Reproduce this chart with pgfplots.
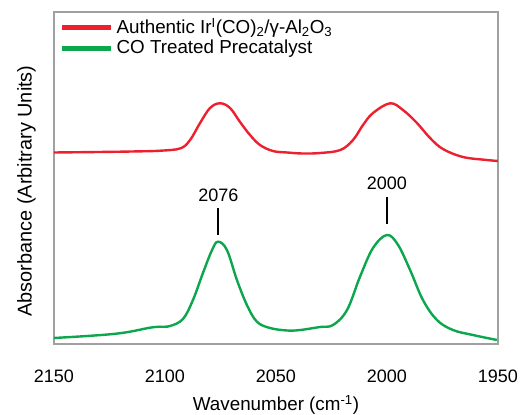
\documentclass[border=0pt]{standalone}
\usepackage{fontspec}
\setmainfont{Liberation Sans}
\usepackage{pgfplots}
\pgfplotsset{compat=1.18}
\definecolor{cred}{RGB}{236,32,46}
\definecolor{cgreen}{RGB}{12,166,76}
\definecolor{cframe}{RGB}{160,160,160}
\begin{document}
\fontsize{18}{21}\selectfont
\begin{tikzpicture}
\useasboundingbox (-54pt,-71pt) rectangle (466pt,344pt);
\begin{axis}[
  at={(0,0)}, anchor=south west,
  scale only axis, width=444pt, height=332pt,
  x dir=reverse, xmin=1950, xmax=2150, ymin=0, ymax=332,
  xtick={1950,2000,2050,2100,2150}, ytick=\empty,
  major tick length=0pt,
  /pgf/number format/assume math mode=true,
  /pgf/number format/1000 sep={},
  axis line style={draw=cframe, line width=1.5pt},
  xticklabel style={yshift=-20pt},
  xlabel={Wavenumber (cm\textsuperscript{-1})},
  xlabel style={at={(axis description cs:0.5,-0.184)}, anchor=center, font=\fontsize{18.8}{22}\selectfont},
  ylabel={Absorbance (Arbitrary Units)},
  ylabel style={at={(axis description cs:-0.062,0.461)}, anchor=center, font=\fontsize{19.9}{24}\selectfont},
  legend image code/.code={\fill[#1] (0pt,-1.25pt) rectangle (46pt,1.25pt);},
  legend style={draw=none, fill=none, at={(0,1)}, anchor=north west,
    xshift=8pt, yshift=-5pt, inner sep=0pt, row sep=2pt,
    font=\fontsize{18.8}{22}\selectfont,
    nodes={inner ysep=1pt, inner xsep=6pt}, cells={anchor=west}},
]
\addplot[cred, line width=2.4pt, smooth, tension=0.6] coordinates {
(2150,191.5) (2130,192) (2115,192.5) (2102,193.3) (2093,195.7) (2088.7,204)
(2084.2,221) (2079.7,236) (2075.2,240.7) (2070.7,236) (2066.2,222) (2061.7,209)
(2057.2,199) (2051.4,193) (2045,191.5) (2038,190.5) (2030,191) (2021,194)
(2015.3,204) (2010.8,219) (2006.3,231) (1998.6,240.7) (1992.8,234) (1986.5,221)
(1980.6,206) (1974.8,195) (1965.8,187) (1955,184) (1950,183)};
\addlegendentry{Authentic Ir\textsuperscript{I}(CO)\textsubscript{2}/γ-Al\textsubscript{2}O\textsubscript{3}}
\addplot[cgreen, line width=2.4pt, smooth, tension=0.6] coordinates {
(2150,6) (2135,8) (2123.4,10) (2115.8,12.3) (2106.8,16.3) (2102.3,17.3)
(2097.7,18) (2091.9,25) (2087.4,44) (2082.9,71) (2078.8,94) (2076.1,102.3)
(2072.1,94) (2067.6,64) (2063.1,39) (2058.6,22.3) (2052.7,16) (2045,13.5)
(2039,14) (2030.2,17) (2024.3,19) (2018,34) (2012.2,67) (2006.3,96)
(2000,109) (1995,99) (1989.6,74) (1983.8,44) (1977.5,24) (1970.3,14)
(1961.3,9) (1950.5,4)};
\addlegendentry{CO Treated Precatalyst}
\addplot[black, line width=1.6pt, forget plot] coordinates {(2076,109) (2076,136)};
\addplot[black, line width=1.6pt, forget plot] coordinates {(2000,120) (2000,147)};
\node at (axis cs:2076,149) {2076};
\node at (axis cs:2000,161) {2000};
\end{axis}
\end{tikzpicture}
\end{document}
